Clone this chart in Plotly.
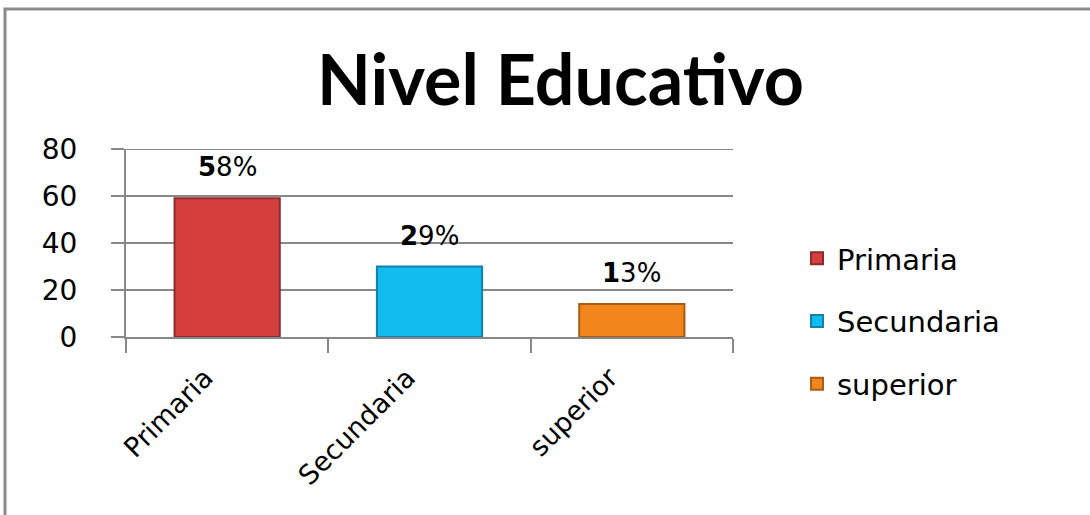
import plotly.graph_objects as go

categories = ["Primaria", "Secundaria", "superior"]
values = [59, 30, 14]
labels = ["58%", "29%", "13%"]
fill_colors = ["#D5403F", "#12BCEF", "#F2861C"]
edge_colors = ["#8E2B2B", "#1480AC", "#A95C14"]
y_ticks = [0, 20, 40, 60, 80]

W, H = 1090, 515
L, R, T, B = 126, 357, 149, 178

fig = go.Figure()
for cat, val, fc, ec in zip(categories, values, fill_colors, edge_colors):
    fig.add_trace(go.Bar(
        x=[cat], y=[val], name=cat, legendgroup=cat,
        marker=dict(color=fc, line=dict(color=ec, width=2)),
        width=0.52, hoverinfo="skip",
    ))

for cat, val, lab in zip(categories, values, labels):
    fig.add_annotation(
        x=cat, y=val, xref="x", yref="y",
        text="<b>" + lab[0] + "</b>" + lab[1:],
        showarrow=False, yanchor="bottom", yshift=14,
        font=dict(family="DejaVu Sans", size=26, color="#000000"),
    )

pw = W - L - R
ph = H - T - B

fig.add_annotation(
    text="<b>Nivel Educativo</b>", xref="paper", yref="paper",
    x=(560 - L) / pw, y=(H - B - 78) / ph, xanchor="center", yanchor="middle",
    showarrow=False, font=dict(family="Lato", size=70, color="#000000"),
)

# top gridline (80)
fig.add_shape(
    type="line", xref="paper", yref="y", x0=-13 / pw, x1=1, y0=y_ticks[-1], y1=y_ticks[-1],
    line=dict(color="#888888", width=2), layer="below",
)

# outer chart border
fig.add_shape(
    type="rect", xref="paper", yref="paper",
    x0=(5 - L) / pw, x1=(1100 - L) / pw,
    y0=(H - B - 530) / ph, y1=(H - B - 9) / ph,
    line=dict(color="#8A8A8A", width=3), fillcolor="rgba(0,0,0,0)", layer="below",
)

fig.update_layout(
    width=W, height=H,
    margin=dict(l=L, r=R, t=T, b=B, pad=0, autoexpand=False),
    plot_bgcolor="white", paper_bgcolor="white",
    barmode="overlay",
    showlegend=True,
    legend=dict(
        x=(797 - L) / pw, y=(H - B - 233) / ph, xanchor="left", yanchor="top",
        font=dict(family="DejaVu Sans", size=29, color="#000000"),
        tracegroupgap=22, traceorder="grouped", bgcolor="rgba(0,0,0,0)",
    ),
    font=dict(family="DejaVu Sans", color="#000000"),
)

fig.update_yaxes(
    range=[0, 80], tickvals=y_ticks, showgrid=True, gridcolor="#888888", gridwidth=2,
    showline=True, linecolor="#888888", linewidth=2,
    ticks="outside", ticklen=13, tickcolor="#888888", tickwidth=2,
    tickfont=dict(family="DejaVu Sans", size=28, color="#000000"),
    ticklabelstandoff=28, zeroline=False, fixedrange=True, automargin=False,
)
fig.update_xaxes(
    tickangle=-45, tickson="boundaries", ticks="outside", ticklen=14,
    tickcolor="#888888", tickwidth=2,
    showline=True, linecolor="#888888", linewidth=2,
    tickfont=dict(family="DejaVu Sans", size=27, color="#000000"),
    ticklabelstandoff=12, ticklabelshift=-22, fixedrange=True, automargin=False,
)

fig.write_html(
    "out.html",
    config={"displayModeBar": False},
    post_script="document.body.style.margin='0';document.body.style.overflow='hidden';",
)
